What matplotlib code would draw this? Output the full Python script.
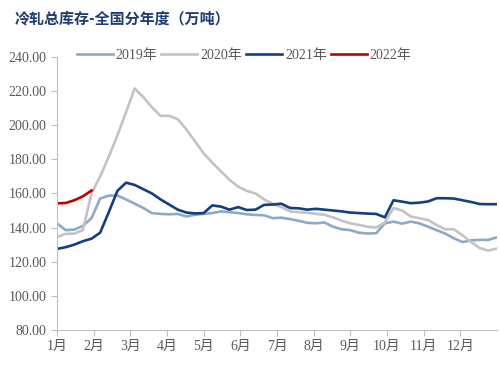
import numpy as np
import matplotlib
matplotlib.use("Agg")
import matplotlib.pyplot as plt

plt.rcParams['font.family'] = ['Liberation Serif', 'Noto Sans CJK SC', 'DejaVu Sans']

# weekly inventory, 10k tonnes
s2019 = [142.5, 138.5, 138.8, 141.0, 145.5, 157.0, 158.7, 158.8, 156.5, 154.0,
         151.5, 148.5, 148.0, 147.8, 148.0, 146.5, 147.5, 148.0, 148.5, 149.5,
         149.0, 148.5, 147.8, 147.4, 147.2, 145.5, 145.8, 145.0, 144.0, 142.8,
         142.5, 143.0, 140.5, 139.0, 138.5, 137.0, 136.5, 136.7, 142.5, 143.5,
         142.3, 143.5, 142.5, 140.5, 138.5, 136.5, 133.7, 131.5, 132.5, 132.8,
         132.8, 134.3]
s2020 = [134.5, 136.3, 136.5, 138.5, 160.0, 170.0, 181.5, 194.0, 207.5, 221.5,
         216.5, 210.5, 205.5, 205.5, 203.5, 197.5, 190.5, 183.5, 178.0, 173.0,
         168.0, 164.0, 161.5, 160.0, 156.5, 154.0, 152.0, 149.5, 149.0, 148.7,
         148.0, 147.5, 146.0, 144.0, 142.5, 141.5, 140.5, 140.0, 143.0, 151.5,
         150.0, 146.5, 145.5, 144.5, 141.5, 139.0, 139.0, 135.5, 131.5, 128.0,
         126.5, 127.7]
s2021 = [127.5, 128.5, 130.0, 132.0, 133.5, 137.0, 149.0, 161.5, 166.3, 165.0,
         162.5, 160.0, 156.5, 153.5, 150.5, 148.8, 148.3, 148.5, 153.0, 152.3,
         150.5, 152.0, 150.3, 150.5, 153.3, 153.5, 154.0, 151.5, 151.3, 150.5,
         151.0, 150.5, 150.0, 149.5, 148.8, 148.5, 148.2, 148.0, 146.0, 156.0,
         155.2, 154.3, 154.6, 155.3, 157.2, 157.2, 157.0, 156.0, 155.0, 153.8,
         153.7, 153.7]
s2022 = [154.2, 154.4, 156.0, 158.3, 161.7]

months = ['1月', '2月', '3月', '4月', '5月', '6月', '7月', '8月', '9月', '10月', '11月', '12月']
yticks = [80, 100, 120, 140, 160, 180, 200, 220, 240]

fig = plt.figure(figsize=(5, 3.65), dpi=100)
ax = fig.add_axes([0.114, 0.096, 0.88, 0.748])

ax.plot(np.arange(len(s2019)), s2019, color='#8EA9C8', lw=1.9, label='2019年')
ax.plot(np.arange(len(s2020)), s2020, color='#C3C3C3', lw=1.9, label='2020年')
ax.plot(np.arange(len(s2021)), s2021, color='#123F7F', lw=1.9, label='2021年')
ax.plot(np.arange(len(s2022)), s2022, color='#C00000', lw=1.9, label='2022年')

n = len(s2019) - 1
ax.set_xlim(0, n)
ax.set_ylim(80, 240)
ax.set_xticks([n * i / 12 for i in range(12)])
ax.set_xticklabels(months)
ax.set_yticks(yticks)
ax.set_yticklabels(['%.2f' % v for v in yticks])

for s in ['top', 'right']:
    ax.spines[s].set_visible(False)
for s in ['left', 'bottom']:
    ax.spines[s].set_color('#BFBFBF')
ax.tick_params(axis='both', colors='#BFBFBF', labelcolor='#595959', labelsize=10, length=4)

ax.legend(loc='upper center', bbox_to_anchor=(0.425, 1.075), ncol=4, frameon=False,
          fontsize=10, handlelength=2.6, handletextpad=0.2, columnspacing=0.3,
          labelcolor='#595959')

fig.text(0.03, 0.948, '冷轧总库存-全国分年度（万吨）', fontsize=10.8, fontweight='bold',
         color='#1F3C73', va='center', family=['Noto Sans CJK SC', 'DejaVu Sans'])

fig.savefig('out.png', dpi=100)
